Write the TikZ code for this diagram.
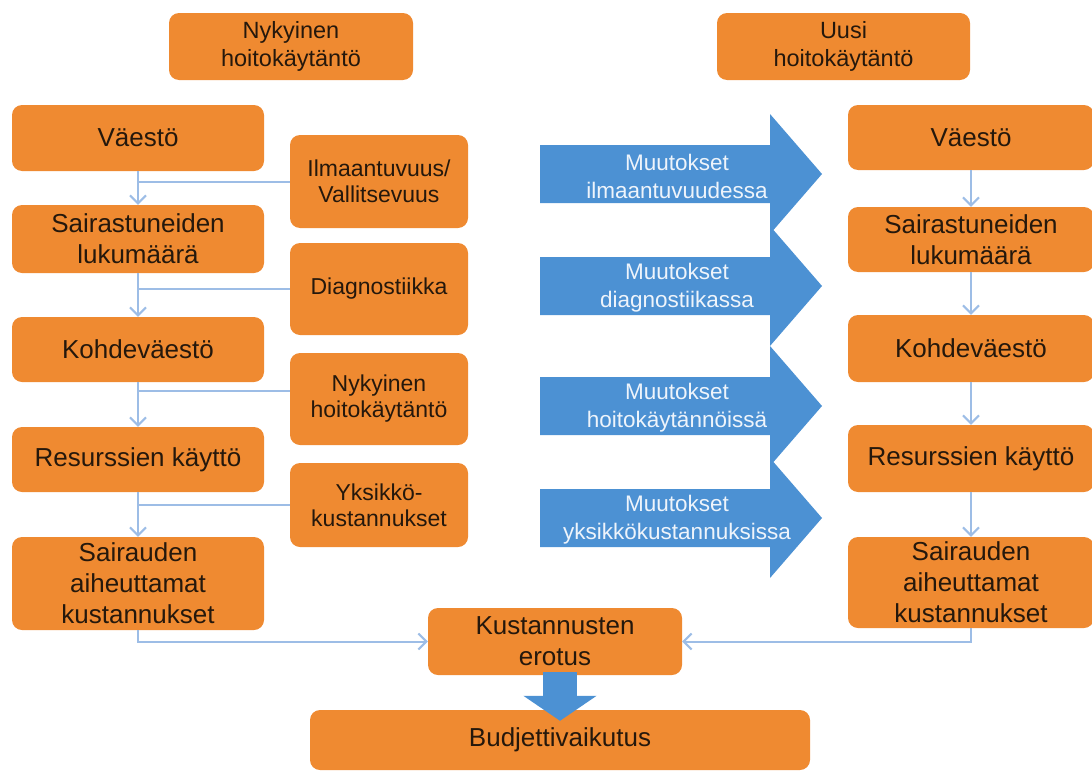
\documentclass[tikz,border=0pt]{standalone}
\usepackage{fontspec}
\setmainfont{Liberation Sans}
\usetikzlibrary{arrows.meta,calc}
\definecolor{boxor}{HTML}{EF8A31}
\definecolor{arrbl}{HTML}{4C91D3}
\definecolor{connc}{HTML}{9DBDE6}
\definecolor{txt}{HTML}{25180C}
\definecolor{wtxt}{HTML}{EEF4FB}
\begin{document}
\begin{tikzpicture}[x=1pt,y=-1pt,
 box/.style={fill=boxor, rounded corners=10pt, inner sep=0pt, align=center, text=txt},
 mainf/.style={font=\fontsize{26}{31}\selectfont},
 sidef/.style={font=\fontsize{23}{26}\selectfont},
 topf/.style={font=\fontsize{23.5}{28}\selectfont},
 colbox/.style={box, mainf, minimum width=252pt},
 rcolbox/.style={box, mainf, minimum width=246pt},
 sidebox/.style={box, sidef, minimum width=178pt},
 connline/.style={draw=connc, line width=2pt},
 conntip/.style={-{Straight Barb[length=8pt,width=16pt]}},
 btxt/.style={text=wtxt, align=center, font=\fontsize{22.5}{28}\selectfont, inner sep=0pt},
 bluearrow/.pic={\fill[arrbl] (0,-29) -- (230,-29) -- (230,-60) -- (282,0) -- (230,60) -- (230,29) -- (0,29) -- cycle;}
]
\useasboundingbox (0,0) rectangle (1092,771);
\clip (0,0) rectangle (1092,771);

% top headers
\node[box, topf, minimum width=244pt, minimum height=67pt] (TL) at (291,46.5) {Nykyinen\\hoitokäytäntö};
\node[box, topf, minimum width=253pt, minimum height=67pt] (TR) at (843.5,46.5) {Uusi\\hoitokäytäntö};

% left column
\node[colbox, minimum height=66pt] (LV) at (138,138) {Väestö};
\node[colbox, minimum height=68pt] (LS) at (138,239) {Sairastuneiden\\lukumäärä};
\node[colbox, minimum height=65pt] (LK) at (138,349.5) {Kohdeväestö};
\node[colbox, minimum height=65pt] (LR) at (138,459.5) {Resurssien käyttö};
\node[colbox, minimum height=93pt] (LC) at (138,583.5) {Sairauden\\aiheuttamat\\kustannukset};

% side boxes
\node[sidebox, minimum height=93pt] (S1) at (379,181.5) {Ilmaantuvuus/\\Vallitsevuus};
\node[sidebox, minimum height=92pt] (S2) at (379,289) {Diagnostiikka};
\node[sidebox, minimum height=92pt] (S3) at (379,399) {Nykyinen\\hoitokäytäntö};
\node[sidebox, minimum height=84pt] (S4) at (379,505) {Yksikkö-\\kustannukset};

% right column
\node[rcolbox, minimum height=65pt] (RV) at (971,137.5) {Väestö};
\node[rcolbox, minimum height=65pt] (RS) at (971,239.5) {Sairastuneiden\\lukumäärä};
\node[rcolbox, minimum height=67pt] (RK) at (971,348.5) {Kohdeväestö};
\node[rcolbox, minimum height=67pt] (RR) at (971,458.5) {Resurssien käyttö};
\node[rcolbox, minimum height=91pt] (RC) at (971,582.5) {Sairauden\\aiheuttamat\\kustannukset};

% bottom
\node[box, mainf, minimum width=254pt, minimum height=67pt] (KE) at (555,641.5) {Kustannusten\\erotus};
\node[box, mainf, minimum width=500pt, minimum height=60pt] (BV) at (560,740) {Budjettivaikutus};

% left connectors
\draw[connline, conntip] (LV.south) -- (LS.north);
\draw[connline, conntip] (LS.south) -- (LK.north);
\draw[connline, conntip] (LK.south) -- (LR.north);
\draw[connline, conntip] (LR.south) -- (LC.north);
\draw[connline] (S1.west) -- (S1.west -| LV.south);
\draw[connline] (S2.west) -- (S2.west -| LV.south);
\draw[connline] ([yshift=8pt]S3.west) -- ([yshift=8pt]S3.west -| LV.south);
\draw[connline] (S4.west) -- (S4.west -| LV.south);

% right connectors
\draw[connline, conntip] (RV.south) -- (RS.north);
\draw[connline, conntip] (RS.south) -- (RK.north);
\draw[connline, conntip] (RK.south) -- (RR.north);
\draw[connline, conntip] (RR.south) -- (RC.north);

% to cost difference
\draw[connline, conntip] (LC.south) |- (KE.west);
\draw[connline, conntip] (RC.south) |- (KE.east);

% blue change arrows
\pic at (540,174) {bluearrow};
\pic at (540,286) {bluearrow};
\pic at (540,406) {bluearrow};
\pic at (540,518) {bluearrow};
\node[btxt] (A1) at (677,176) {Muutokset\\ilmaantuvuudessa};
\node[btxt] (A2) at (677,288) {Muutokset\\diagnostiikassa};
\node[btxt] (A3) at (677,408) {Muutokset\\hoitokäytännöissä};
\node[btxt] (A4) at (677,520) {Muutokset\\yksikkökustannuksissa};

% thick arrow down
\draw[arrbl, line width=34pt, -{Triangle[length=25pt,width=72pt]}, shorten <=-3pt, shorten >=-11pt] (KE.south -| BV.north) -- (BV.north);
\end{tikzpicture}
\end{document}
